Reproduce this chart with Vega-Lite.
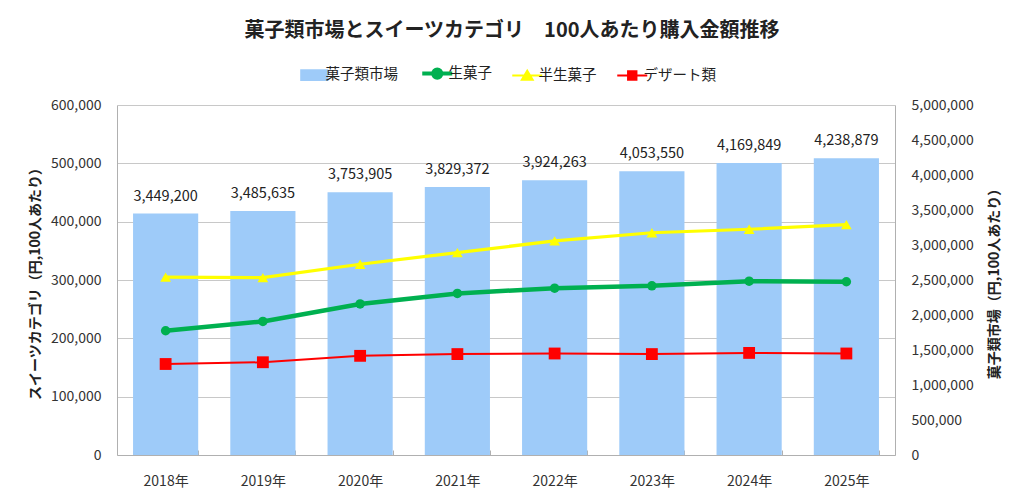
{
  "$schema": "https://vega.github.io/schema/vega-lite/v6.json",
  "width": 778,
  "height": 350,
  "autosize": "none",
  "padding": {"left": 117, "top": 105, "right": 129, "bottom": 48},
  "background": "white",
  "config": {
    "font": "Noto Sans CJK JP",
    "view": {"stroke": null},
    "axis": {"labelFont": "Noto Sans CJK JP", "titleFont": "Noto Sans CJK JP", "labelFontSize": 14, "labelColor": "#333333", "titleColor": "#222222"}
  },
  "title": {
    "text": "菓子類市場とスイーツカテゴリ　100人あたり購入金額推移",
    "fontSize": 20,
    "fontWeight": "bold",
    "font": "Noto Sans CJK JP",
    "color": "#222222",
    "anchor": "middle",
    "dx": 6,
    "offset": 25
  },
  "datasets": {
    "market": [
      {"year": "2018年", "series": "菓子類市場", "value": 3449200},
      {"year": "2019年", "series": "菓子類市場", "value": 3485635},
      {"year": "2020年", "series": "菓子類市場", "value": 3753905},
      {"year": "2021年", "series": "菓子類市場", "value": 3829372},
      {"year": "2022年", "series": "菓子類市場", "value": 3924263},
      {"year": "2023年", "series": "菓子類市場", "value": 4053550},
      {"year": "2024年", "series": "菓子類市場", "value": 4169849},
      {"year": "2025年", "series": "菓子類市場", "value": 4238879}
    ],
    "sweets": [
      {"year": "2018年", "series": "生菓子", "value": 213000},
      {"year": "2019年", "series": "生菓子", "value": 229000},
      {"year": "2020年", "series": "生菓子", "value": 259000},
      {"year": "2021年", "series": "生菓子", "value": 277000},
      {"year": "2022年", "series": "生菓子", "value": 286000},
      {"year": "2023年", "series": "生菓子", "value": 290000},
      {"year": "2024年", "series": "生菓子", "value": 298000},
      {"year": "2025年", "series": "生菓子", "value": 297000},
      {"year": "2018年", "series": "半生菓子", "value": 305000},
      {"year": "2019年", "series": "半生菓子", "value": 304000},
      {"year": "2020年", "series": "半生菓子", "value": 327000},
      {"year": "2021年", "series": "半生菓子", "value": 347000},
      {"year": "2022年", "series": "半生菓子", "value": 367000},
      {"year": "2023年", "series": "半生菓子", "value": 381000},
      {"year": "2024年", "series": "半生菓子", "value": 387000},
      {"year": "2025年", "series": "半生菓子", "value": 395000},
      {"year": "2018年", "series": "デザート類", "value": 156000},
      {"year": "2019年", "series": "デザート類", "value": 159000},
      {"year": "2020年", "series": "デザート類", "value": 170000},
      {"year": "2021年", "series": "デザート類", "value": 173000},
      {"year": "2022年", "series": "デザート類", "value": 174000},
      {"year": "2023年", "series": "デザート類", "value": 173000},
      {"year": "2024年", "series": "デザート類", "value": 175000},
      {"year": "2025年", "series": "デザート類", "value": 174000}
    ]
  },
  "encoding": {
    "x": {
      "field": "year",
      "type": "nominal",
      "sort": null,
      "scale": {"paddingInner": 0.33, "paddingOuter": 0.165},
      "axis": {
        "title": null,
        "labelAngle": 0,
        "labelFontSize": 14,
        "labelPadding": 24,
        "tickBand": "extent",
        "tickSize": -5,
        "tickColor": "#B0B0B0",
        "domainColor": "#B0B0B0",
        "grid": false
      }
    }
  },
  "layer": [
    {
      "data": {"name": "market"},
      "encoding": {
        "y": {
          "field": "value",
          "type": "quantitative",
          "scale": {"domain": [0, 5000000], "nice": false},
          "axis": {
            "orient": "right",
            "values": [0, 500000, 1000000, 1500000, 2000000, 2500000, 3000000, 3500000, 4000000, 4500000, 5000000],
            "format": ",d",
            "title": "菓子類市場（円,100人あたり）",
            "titleFontSize": 14,
            "titleFontWeight": "bold",
            "titleAngle": 270,
            "titlePadding": 28,
            "grid": false,
            "ticks": false,
            "labelPadding": 16,
            "domainColor": "#B0B0B0"
          }
        }
      },
      "layer": [
        {
          "mark": {"type": "bar", "color": "#9ECBF9"},
          "encoding": {
            "color": {
              "field": "series",
              "type": "nominal",
              "scale": {
                "domain": ["菓子類市場", "生菓子", "半生菓子", "デザート類"],
                "range": ["#9ECBF9", "#00B050", "#FFFF00", "#FF0000"]
              },
              "legend": {
                "orient": "none",
                "legendX": 190,
                "legendY": -39,
                "direction": "horizontal",
                "title": null,
                "labelFontSize": 14.5,
                "labelFont": "Noto Sans CJK JP",
                "labelColor": "#222222",
                "labelOffset": 4,
                "columnPadding": 16,
                "symbolSize": 900,
                "encoding": {
                  "symbols": {
                    "shape": {"value": {"expr": "datum.value === '菓子類市場' ? 'M-0.87,-0.33H0.87V0.33H-0.87Z' : datum.value === '生菓子' ? 'M-1,0H1M0.27,0A0.27,0.27,0,1,1,-0.27,0A0.27,0.27,0,1,1,0.27,0Z' : datum.value === '半生菓子' ? 'M-1,0H1M0,-0.33L0.36,0.27H-0.36Z' : 'M-1,0H1M-0.28,-0.28H0.28V0.28H-0.28Z'"}},
                    "fill": {"value": {"expr": "scale('color', datum.value)"}},
                    "stroke": {"value": {"expr": "datum.value === '菓子類市場' ? 'transparent' : scale('color', datum.value)"}},
                    "strokeWidth": {"value": {"expr": "datum.value === '生菓子' ? 4 : 2"}},
                    "size": {"value": 900},
                    "opacity": {"value": 1}
                  }
                }
              }
            }
          }
        },
        {
          "mark": {"type": "text", "baseline": "alphabetic", "dy": -13, "fontSize": 14.5, "color": "#222222", "font": "Noto Sans CJK JP"},
          "encoding": {
            "text": {"field": "value", "type": "quantitative", "format": ",d"}
          }
        }
      ]
    },
    {
      "data": {"name": "sweets"},
      "encoding": {
        "y": {
          "field": "value",
          "type": "quantitative",
          "scale": {"domain": [0, 600000], "nice": false},
          "axis": {
            "orient": "left",
            "values": [0, 100000, 200000, 300000, 400000, 500000, 600000],
            "format": ",d",
            "title": "スイーツカテゴリ（円,100人あたり）",
            "titleFontSize": 14,
            "titleFontWeight": "bold",
            "titlePadding": 8,
            "grid": true,
            "gridColor": "#C8C8C8",
            "ticks": false,
            "labelPadding": 16,
            "domainColor": "#B0B0B0"
          }
        },
        "color": {"field": "series", "type": "nominal"}
      },
      "layer": [
        {
          "mark": {"type": "line"},
          "encoding": {
            "strokeWidth": {
              "field": "series",
              "type": "nominal",
              "scale": {"domain": ["生菓子", "半生菓子", "デザート類"], "range": [4.5, 2, 2]},
              "legend": null
            }
          }
        },
        {
          "mark": {"type": "point", "filled": true, "opacity": 1},
          "encoding": {
            "shape": {
              "field": "series",
              "type": "nominal",
              "scale": {"domain": ["生菓子", "半生菓子", "デザート類"], "range": ["circle", "triangle-up", "square"]},
              "legend": null
            },
            "size": {
              "field": "series",
              "type": "nominal",
              "scale": {"domain": ["生菓子", "半生菓子", "デザート類"], "range": [90, 140, 100]},
              "legend": null
            }
          }
        }
      ]
    }
  ],
  "resolve": {"scale": {"y": "independent"}}
}
